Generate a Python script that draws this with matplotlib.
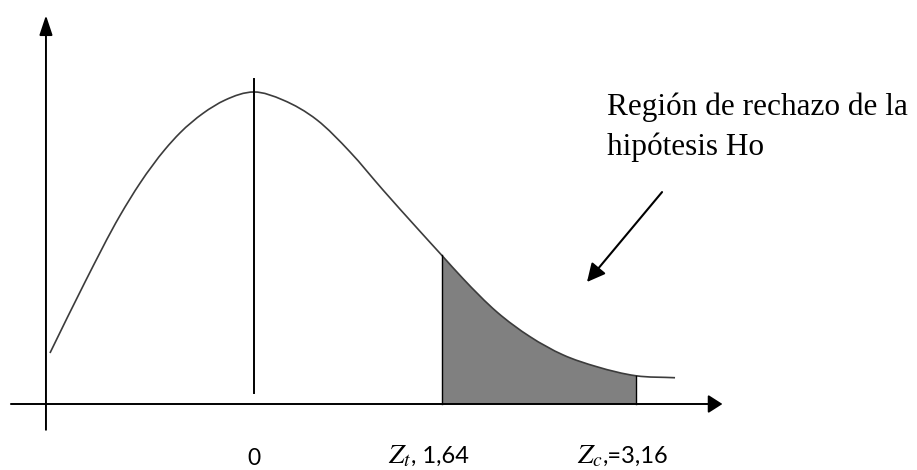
import matplotlib
matplotlib.use("Agg")
import matplotlib.pyplot as plt
import numpy as np
from matplotlib.patches import FancyArrowPatch, PathPatch
from matplotlib.path import Path

# curve (z units, density height)
curve_z = [-1.729, -1.432, -1.136, -0.966, -0.754, -0.627, -0.432, -0.246, 0.0,
           0.246, 0.534, 0.814, 1.093, 1.381, 1.593, 1.771, 2.059, 2.339, 2.619,
           2.907, 3.237, 3.568]
curve_d = [0.0652, 0.1560, 0.2409, 0.2824, 0.3256, 0.3467, 0.3717, 0.3886, 0.3990,
           0.3887, 0.3632, 0.3223, 0.2737, 0.2251, 0.1899, 0.1604, 0.1176, 0.0861,
           0.0628, 0.0476, 0.0361, 0.0336]

z_mean = 0.0
mean_label = '0'
z_crit = [1.593, 3.237]              # where Z_t and Z_c are drawn
crit_names = ['$Z_t$', '$Z_c$']
crit_values = [', 1,64', ',=3,16']
note_lines = ['Región de rechazo de la', 'hipótesis Ho']

plt.rcParams['mathtext.fontset'] = 'stix'

# 118 px per z unit, 782 px per density unit, origin at (254, 404) px
fig = plt.figure(figsize=(9.17, 4.70), dpi=100)
ax = fig.add_axes([0, 0, 1, 1])
ax.set_xlim(-254 / 118, 663 / 118)
ax.set_ylim(-66 / 782, 404 / 782)
ax.axis('off')


def curve_segments(xs, ys):
    # cubic hermite pieces through the read points, slopes from neighbours
    x = np.asarray(xs, float)
    y = np.asarray(ys, float)
    m = np.gradient(y, x)
    segs = []
    for i in range(len(x) - 1):
        h = (x[i + 1] - x[i]) / 3
        segs.append([(x[i] + h, y[i] + m[i] * h),
                     (x[i + 1] - h, y[i + 1] - m[i + 1] * h),
                     (x[i + 1], y[i + 1])])
    return list(zip(x, y)), segs


def arrow(start, end, hl, hw, lw):
    ax.add_patch(FancyArrowPatch(start, end,
                                 arrowstyle='-|>,head_length=%g,head_width=%g' % (hl, hw),
                                 mutation_scale=1, lw=lw, color='black',
                                 shrinkA=0, shrinkB=0, zorder=3))


pts, segs = curve_segments(curve_z, curve_d)

# shaded rejection region
i0 = curve_z.index(z_crit[0])
i1 = curve_z.index(z_crit[1])
verts = [pts[i0]]
codes = [Path.MOVETO]
for s in segs[i0:i1]:
    verts += s
    codes += [Path.CURVE4] * 3
verts += [(z_crit[1], 0), (z_crit[0], 0), pts[i0]]
codes += [Path.LINETO, Path.LINETO, Path.CLOSEPOLY]
ax.add_patch(PathPatch(Path(verts, codes), facecolor='#808080', edgecolor='none', zorder=1))

# the curve itself
verts = [pts[0]]
codes = [Path.MOVETO]
for s in segs:
    verts += s
    codes += [Path.CURVE4] * 3
ax.add_patch(PathPatch(Path(verts, codes), facecolor='none', edgecolor='#3c3c3c',
                       lw=1.2, zorder=2))

# vertical lines at mean and critical values
ax.plot([z_mean, z_mean], [0.014, 0.416], color='black', lw=1.4, zorder=3)
for zc in z_crit:
    ax.plot([zc, zc], [0, curve_d[curve_z.index(zc)]], color='black', lw=1.0, zorder=3)

# axes with arrow heads
arrow((-2.06, 0), (3.97, 0), 8.6, 5.5, 1.4)
arrow((-1.763, -0.033), (-1.763, 0.497), 12, 4, 1.4)

# labels under the axis
ax.text(z_mean, -0.0785, mean_label, ha='center', va='baseline',
        fontsize=16.5, family='Lato')
for split, name, val in zip([1.331, 2.958], crit_names, crit_values):
    ax.text(split, -0.0754, name, ha='right', va='baseline', fontsize=20)
    ax.text(split, -0.0754, val, ha='left', va='baseline', fontsize=17, family='Lato')

# note and pointer
ax.text(2.992, 0.3696, note_lines[0], ha='left', va='baseline',
        fontsize=22.5, family='Liberation Serif')
ax.text(2.992, 0.3184, note_lines[1], ha='left', va='baseline',
        fontsize=22.5, family='Liberation Serif')
arrow((3.458, 0.271), (2.822, 0.156), 11, 5.5, 1.5)

fig.savefig('out.png', dpi=100)
